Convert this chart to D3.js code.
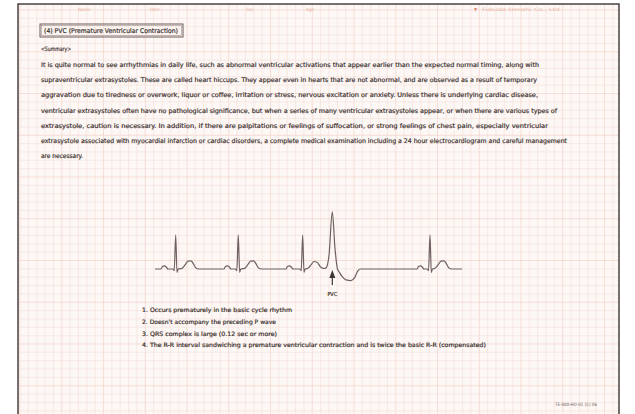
<!DOCTYPE html>
<html><head><meta charset="utf-8">
<script src="https://cdn.jsdelivr.net/npm/d3@7"></script>
<style>html,body{margin:0;padding:0;background:#fff;}svg{display:block;}</style>
</head><body>
<svg id="c" width="635" height="414"></svg>
<script>
// ---- data ----
const titleText = "(4) PVC (Premature Ventricular Contraction)";
const summaryLabel = "<Summary>";
const paragraphLines = [
  "It is quite normal to see arrhythmias in daily life, such as abnormal ventricular activations that appear earlier than the expected normal timing, along with",
  "supraventricular extrasystoles. These are called heart hiccups. They appear even in hearts that are not abnormal, and are observed as a result of temporary",
  "aggravation due to tiredness or overwork, liquor or coffee, irritation or stress, nervous excitation or anxiety. Unless there is underlying cardiac disease,",
  "ventricular extrasystoles often have no pathological significance, but when a series of many ventricular extrasystoles appear, or when there are various types of",
  "extrasystole, caution is necessary. In addition, if there are palpitations or feelings of suffocation, or strong feelings of chest pain, especially ventricular",
  "extrasystole associated with myocardial infarction or cardiac disorders, a complete medical examination including a 24 hour electrocardiogram and careful management",
  "are necessary."
];
const paragraphWidths = [498, 496, 497, 516, 507, 526, 42];
const listLines = [
  "1. Occurs prematurely in the basic cycle rhythm",
  "2. Doesn't accompany the preceding P wave",
  "3. QRS complex is large (0.12 sec or more)",
  "4. The R-R interval sandwiching a premature ventricular contraction and is twice the basic R-R (compensated)"
];
const listWidths = [150, 134, 135, 344];
const pvcLabel = "PVC";
const pvcTime = 1773; // ms
const footerCode = "TE-000-HO-01 (C) 06";
const headerLeft = ["Name:", "Date:", "Sex:", "Age:"];
const headerRight = "Fukuda Denshi Co., Ltd.";
// ECG trace: time (ms), voltage (mV)
const ecgTime = [0,60,75,95,115,130,180,192,207,220,232,270,300,330,360,385,410,440,
  690,705,725,745,760,805,818,833,846,858,896,926,956,986,1011,1036,1066,
  1310,1325,1345,1365,1380,1450,1462,1477,1490,1502,1530,1560,1590,1620,1650,1680,
  1700,1715,1740,1773,1800,1825,1840,1870,1910,1960,1995,2030,2050,
  2620,2635,2655,2675,2690,2722,2735,2750,2763,2775,2800,2830,2860,2890,2915,2940,2970,3070];
const ecgVolt = [0,0,0.07,0.09,0.05,0,0,-0.05,1.0,-0.1,0,0.02,0.12,0.23,0.24,0.15,0.03,0,
  0,0.07,0.09,0.05,0,0,-0.05,1.0,-0.1,0,0.02,0.12,0.23,0.24,0.15,0.03,0,
  0,0.07,0.09,0.05,0,0,-0.05,1.0,-0.1,0,0.02,0.12,0.22,0.2,0.08,0.02,
  0.02,0.05,0.4,1.68,0.6,0,-0.08,-0.22,-0.32,-0.34,-0.26,-0.05,0,
  0,0.07,0.09,0.05,0,0,-0.05,1.0,-0.1,0,0.02,0.12,0.23,0.24,0.15,0.03,0,0];

// ---- drawing ----
const svg = d3.select("#c");
const frame = {x0: 18, y0: 4, x1: 619, y1: 414};
const paper = svg.append("g");
paper.append("rect").attr("x", frame.x0).attr("y", frame.y0)
  .attr("width", frame.x1 - frame.x0).attr("height", frame.y1 - frame.y0)
  .attr("fill", "#fdf7f5");
const step = 8.35;
const gx = d3.range(frame.x0 + 2, frame.x1, step);
const gy = d3.range(frame.y0 + 6, frame.y1, step);
paper.selectAll("line.gv").data(gx).join("line")
  .attr("x1", d => d).attr("x2", d => d).attr("y1", frame.y0).attr("y2", frame.y1)
  .attr("stroke", (d, i) => i % 5 === 0 ? "#f2d3ca" : "#f7e2db").attr("stroke-width", 0.7);
paper.selectAll("line.gh").data(gy).join("line")
  .attr("y1", d => d).attr("y2", d => d).attr("x1", frame.x0).attr("x2", frame.x1)
  .attr("stroke", (d, i) => i % 5 === 0 ? "#f2d3ca" : "#f7e2db").attr("stroke-width", 0.7);
// frame border
svg.append("path")
  .attr("d", `M${frame.x0},${frame.y1}V${frame.y0}H${frame.x1}V${frame.y1}`)
  .attr("fill", "none").attr("stroke", "#4a4040").attr("stroke-width", 1.5);

const font = "'DejaVu Sans Condensed', 'Liberation Sans Narrow', sans-serif";
const ink = "#3a302e";
function inked(sel) {
  return sel.attr("font-family", font).attr("fill", ink).attr("stroke", ink).attr("stroke-width", 0.18);
}

// header faint text
const hdr = svg.append("g").attr("font-family", font).attr("font-size", 4.5).attr("fill", "#eab0a2");
const hdrX = [78, 150, 246, 306];
hdr.selectAll("text.h").data(headerLeft).join("text")
  .attr("x", (d, i) => hdrX[i]).attr("y", 11).text(d => d);
hdr.append("text").attr("x", 474).attr("y", 11).attr("fill", "#e08f7c").text("\u25BC");
hdr.append("text").attr("x", 482).attr("y", 11).attr("textLength", 80).attr("lengthAdjust", "spacingAndGlyphs").text(headerRight);

// title box
svg.append("rect").attr("x", 40).attr("y", 24).attr("width", 143).attr("height", 13)
  .attr("fill", "none").attr("stroke", "#6a5c58").attr("stroke-width", 1);
svg.append("rect").attr("x", 41.5).attr("y", 25.5).attr("width", 140).attr("height", 10)
  .attr("fill", "none").attr("stroke", "#8a7c78").attr("stroke-width", 0.5);
inked(svg.append("text")).attr("x", 44).attr("y", 33.2).attr("font-size", 6.5)
  .attr("textLength", 134).attr("lengthAdjust", "spacingAndGlyphs").text(titleText);

inked(svg.append("text")).attr("x", 41).attr("y", 51).attr("font-size", 6)
  .attr("textLength", 30).attr("lengthAdjust", "spacingAndGlyphs").text(summaryLabel);

inked(svg.append("g").selectAll("text").data(paragraphLines).join("text"))
  .attr("x", 41).attr("y", (d, i) => 67 + i * 15.2)
  .attr("font-size", 6.3)
  .attr("textLength", (d, i) => paragraphWidths[i]).attr("lengthAdjust", "spacingAndGlyphs")
  .text(d => d);

// ECG
const x = d3.scaleLinear().domain([0, 3070]).range([155, 462]);
const y = d3.scaleLinear().domain([0, 1]).range([269, 235]);
const pts = ecgTime.map((t, i) => [t, ecgVolt[i]]);
svg.append("path").datum(pts)
  .attr("d", d3.line().x(d => x(d[0])).y(d => y(d[1])).curve(d3.curveMonotoneX))
  .attr("fill", "none").attr("stroke", "#6e6260").attr("stroke-width", 1.2).attr("stroke-linejoin", "round");

// PVC arrow + label
const ax = x(pvcTime);
svg.append("line").attr("x1", ax).attr("x2", ax).attr("y1", 276).attr("y2", 285)
  .attr("stroke", "#3d3535").attr("stroke-width", 1.2);
svg.append("path").attr("d", `M${ax},${270}L${ax - 3},${278}L${ax + 3},${278}Z`).attr("fill", "#3d3535");
inked(svg.append("text")).attr("x", ax).attr("y", 296).attr("text-anchor", "middle")
  .attr("font-size", 5.5).text(pvcLabel);

// list
inked(svg.append("g").selectAll("text").data(listLines).join("text"))
  .attr("x", 142).attr("y", (d, i) => 312 + i * 11.8)
  .attr("font-size", 6)
  .attr("textLength", (d, i) => listWidths[i]).attr("lengthAdjust", "spacingAndGlyphs")
  .text(d => d);

// footer code
svg.append("text").attr("x", 555).attr("y", 406).attr("font-family", font).attr("font-size", 4.5)
  .attr("fill", "#6a5c58").attr("textLength", 42).attr("lengthAdjust", "spacingAndGlyphs").text(footerCode);
</script>
</body></html>
